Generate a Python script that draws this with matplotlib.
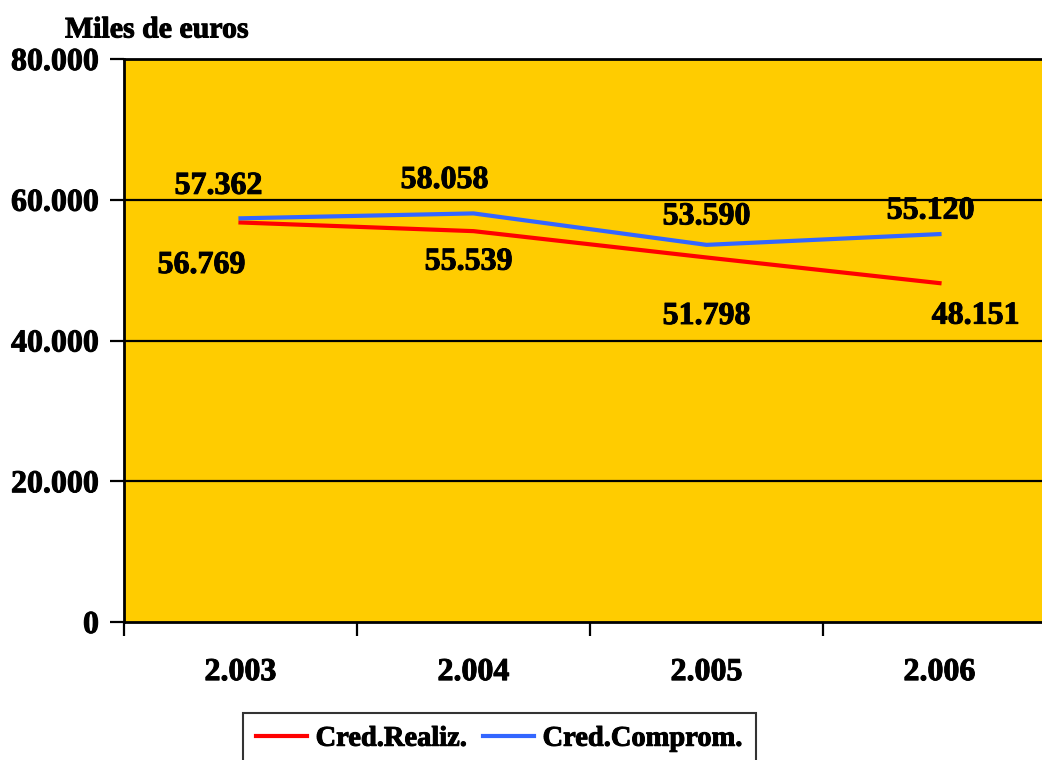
import matplotlib.pyplot as plt
import matplotlib.patheffects as pe
import numpy as np

# Datos
anios = ['2.003', '2.004', '2.005', '2.006']
cred_realiz = [56769, 55539, 51798, 48151]
cred_comprom = [57362, 58058, 53590, 55120]
etiq_realiz = ['56.769', '55.539', '51.798', '48.151']
etiq_comprom = ['57.362', '58.058', '53.590', '55.120']
yticks = [0, 20000, 40000, 60000, 80000]
ytick_labels = ['0', '20.000', '40.000', '60.000', '80.000']

plt.rcParams['font.family'] = 'Liberation Serif'
plt.rcParams['font.weight'] = 'bold'

# trazo fino para que el texto parezca mas grueso
grueso = [pe.withStroke(linewidth=0.7, foreground='black')]

fig = plt.figure(figsize=(10.42, 7.6), dpi=100)
# el area de dibujo sale por la derecha, como en el original
ax = fig.add_axes([124/1042, 138/760, 932/1042, 563/760])
ax.set_facecolor('#FFCC00')

x = np.arange(len(anios))
ax.plot(x, cred_realiz, color='#FF0000', lw=3, label='Cred.Realiz.', zorder=3)
ax.plot(x, cred_comprom, color='#3366FF', lw=3, label='Cred.Comprom.', zorder=3)

ax.set_xlim(-0.5, 3.5)
ax.set_ylim(0, 80000)

# lineas de division horizontales
for v in yticks[1:4]:
    ax.axhline(v, color='black', lw=1.6, zorder=1)

ax.set_yticks(yticks)
ax.set_yticklabels(ytick_labels, fontsize=23, fontweight='bold')
ax.tick_params(axis='y', length=10, width=1.6, pad=8)

ax.set_xticks([-0.5, 0.5, 1.5, 2.5])
ax.set_xticklabels([])
ax.tick_params(axis='x', which='major', length=10, width=1.6)
ax.set_xticks(x, minor=True)
ax.set_xticklabels(anios, minor=True, fontsize=23, fontweight='bold')
ax.tick_params(axis='x', which='minor', length=0, pad=26)

for lbl in ax.get_yticklabels() + ax.get_xticklabels(minor=True):
    lbl.set_path_effects(grueso)

for s in ['left', 'bottom', 'top']:
    ax.spines[s].set_linewidth(2)
ax.spines['right'].set_visible(False)

# etiquetas de datos (posiciones ajustadas a mano como en el original)
off_comprom = [(-22, 32), (-29, 33), (0, 28), (-9, 23)]
off_realiz = [(-39, -43), (-5, -31), (0, -59), (36, -33)]
for i in range(len(anios)):
    ax.annotate(etiq_comprom[i], (x[i], cred_comprom[i]), xytext=off_comprom[i],
                textcoords='offset pixels', ha='center', va='center',
                fontsize=23, fontweight='bold', path_effects=grueso)
    ax.annotate(etiq_realiz[i], (x[i], cred_realiz[i]), xytext=off_realiz[i],
                textcoords='offset pixels', ha='center', va='center',
                fontsize=23, fontweight='bold', path_effects=grueso)

fig.text(65/1042, 1 - 30/760, 'Miles de euros', fontsize=21.5, fontweight='bold',
         ha='left', va='center', path_effects=grueso)

leg = fig.legend(loc='upper left', bbox_to_anchor=(243/1042, 1 - 713/760),
                 ncol=2, fontsize=20.5, frameon=True, fancybox=False,
                 edgecolor='black', handlelength=1.8, handletextpad=0.3,
                 columnspacing=0.55, borderpad=0.45, borderaxespad=0)
leg.get_frame().set_linewidth(1.5)
for t in leg.get_texts():
    t.set_fontweight('bold')
    t.set_path_effects(grueso)

fig.savefig('out.png', dpi=100)
